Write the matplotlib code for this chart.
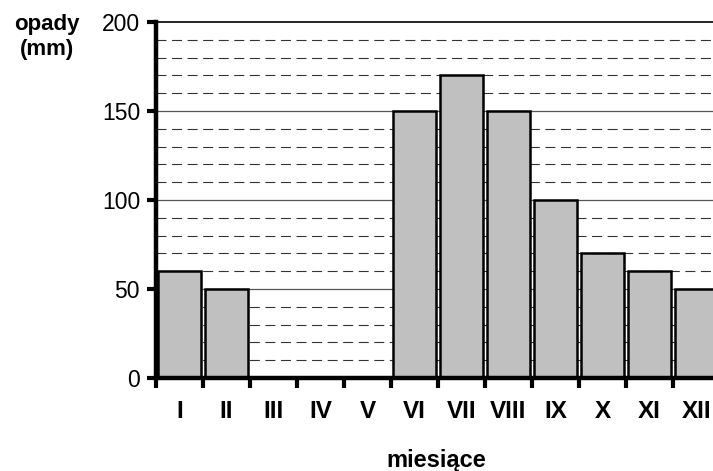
import numpy as np
import matplotlib.pyplot as plt

plt.rcParams['font.family'] = ['Liberation Sans', 'DejaVu Sans']

months = ['I', 'II', 'III', 'IV', 'V', 'VI', 'VII', 'VIII', 'IX', 'X', 'XI', 'XII']
rain = [60, 50, 0, 0, 0, 150, 170, 150, 100, 70, 60, 50]

fig = plt.figure(figsize=(7.13, 4.71), dpi=100)
ax = fig.add_axes([0.2188, 0.1975, 0.7812, 0.7558])

x = np.arange(len(months)) + 0.5

# linie siatki: przerywane co 10, ciagle co 50
for v in range(10, 200, 10):
    if v % 50 == 0:
        continue
    ax.axhline(v, color='#333333', lw=0.8, ls=(0, (9, 5)), zorder=1)
for v in [50, 100, 150]:
    ax.axhline(v, color='#555555', lw=0.9, zorder=1)
ax.axhline(200, color='black', lw=1.2, zorder=1, clip_on=False)

ax.bar(x, rain, width=0.91, color='#c0c0c0', edgecolor='black', lw=1.8, zorder=2)

ax.set_xlim(0, 557 / 47)
ax.set_ylim(0, 200)

ax.set_yticks([0, 50, 100, 150, 200])
ax.tick_params(axis='y', length=6.5, width=3, labelsize=16.5, pad=5)

ax.set_xticks(np.arange(0, 12))
ax.set_xticklabels([])
ax.set_xticks(x, minor=True)
ax.set_xticklabels(months, minor=True, fontweight='bold', fontsize=17.5)
ax.tick_params(axis='x', which='major', length=7, width=3, direction='out')
ax.tick_params(axis='x', which='minor', length=0, pad=16)

for s in ['top', 'right']:
    ax.spines[s].set_visible(False)
ax.spines['left'].set_linewidth(3.2)
ax.spines['bottom'].set_linewidth(3.2)
for t in ax.yaxis.get_major_ticks() + ax.xaxis.get_major_ticks():
    t.tick1line.set_clip_on(False)

fig.text(47 / 713, 1 - 37 / 471, 'opady\n(mm)', ha='center', va='center',
         fontsize=16, fontweight='bold', linespacing=1.25)
fig.text(436 / 713, 1 - 467 / 471, 'miesiące', ha='center', va='baseline',
         fontsize=17, fontweight='bold')

fig.savefig('out.png', dpi=100)
